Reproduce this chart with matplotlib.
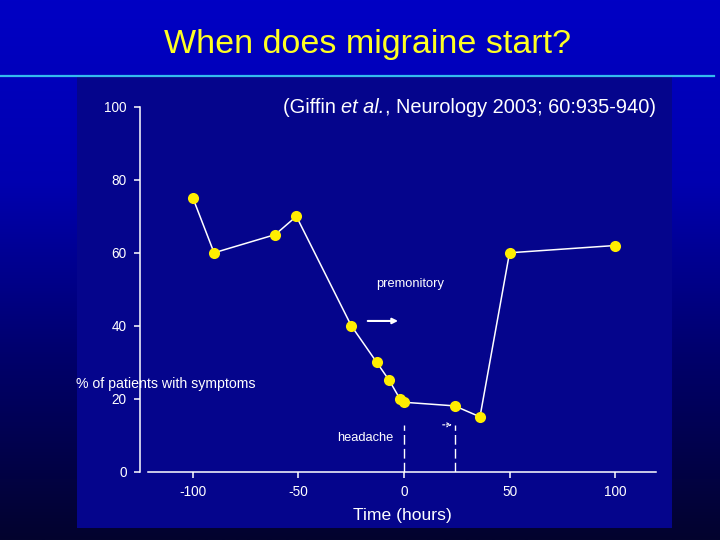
import numpy as np
import matplotlib
matplotlib.use('Agg')
import matplotlib.pyplot as plt
from matplotlib.patches import Rectangle
from matplotlib.lines import Line2D
from matplotlib.colors import LinearSegmentedColormap

plt.rcParams['font.family'] = ['Liberation Sans', 'DejaVu Sans']
plt.rcParams['axes.unicode_minus'] = False

# Daten (Zeit in Stunden, Anteil in %)
hours = [-100, -90, -61, -51, -25, -13, -7, -2, 0, 24, 36, 50, 100]
percent = [75, 60, 65, 70, 40, 30, 25, 20, 19, 18, 15, 60, 62]
x_ticks = [-100, -50, 0, 50, 100]
y_ticks = [0, 20, 40, 60, 80, 100]
headache_start = 0
headache_end = 24

W, H = 720, 540
fig = plt.figure(figsize=(7.2, 5.4), dpi=100)

# Hintergrund mit Farbverlauf
bg = fig.add_axes([0, 0, 1, 1], zorder=-10)
grad = np.linspace(0, 1, 256).reshape(-1, 1)
cmap = LinearSegmentedColormap.from_list('bg', ['#0000C4', '#0000B0', '#00006A', '#03032E'])
bg.imshow(grad, aspect='auto', cmap=cmap, extent=[0, 1, 0, 1])
bg.axis('off')

# Panel
fig.patches.append(Rectangle((77 / W, 1 - 528 / H), (672 - 77) / W, (528 - 77) / H,
                             transform=fig.transFigure, facecolor='#05058C',
                             edgecolor='none', zorder=-5))
fig.lines.append(Line2D([0, 714 / W], [1 - 76 / H, 1 - 76 / H], transform=fig.transFigure,
                        color='#33BBEE', lw=1.6, zorder=-4))

fig.text(367 / W, 1 - 45 / H, 'When does migraine start?', color='#FFFF22',
         fontsize=24.5, ha='center', va='center')

ax = fig.add_axes([148 / W, 1 - 471.5 / H, 508 / W, (471.5 - 107) / H])
ax.set_facecolor('none')
ax.set_xlim(-121.3, 119.4)
ax.set_ylim(0, 100)

ax.plot(hours, percent, color='white', lw=1.1, zorder=3, clip_on=False)
ax.plot(hours, percent, 'o', color='#FFEE00', markersize=8, markeredgewidth=0,
        zorder=4, clip_on=False)

# Kopfschmerzphase
for xv in (headache_start, headache_end):
    ax.plot([xv, xv], [0, 12.8], color='white', lw=1.0, ls=(0, (7, 3)), zorder=2)
ax.annotate('', xy=(24, 12.8), xytext=(17, 12.8),
            arrowprops=dict(arrowstyle='->', color='white', lw=0.8, ls=(0, (2, 1.5)),
                            mutation_scale=7))
ax.annotate('', xy=(-1.5, 41.3), xytext=(-18.5, 41.3),
            arrowprops=dict(arrowstyle='-|>', color='white', lw=1.5,
                            mutation_scale=8))
ax.text(3, 51.5, 'premonitory', color='white', fontsize=9.3, ha='center', va='center')
ax.text(-18.5, 9.3, 'headache', color='white', fontsize=9.3, ha='center', va='center')

for s in ['top', 'right']:
    ax.spines[s].set_visible(False)
ax.spines['left'].set_position(('outward', 5.8))
ax.spines['left'].set_bounds(0, 100)
for s in ['left', 'bottom']:
    ax.spines[s].set_color('white')
    ax.spines[s].set_linewidth(1.1)

ax.set_xticks(x_ticks)
ax.set_yticks(y_ticks)
ax.tick_params(colors='white', labelsize=9.8, length=4, width=1.1)
ax.tick_params(axis='y', pad=5.5)
ax.tick_params(axis='x', pad=6)
ax.set_xlabel('Time (hours)', color='white', fontsize=12.6, labelpad=6)

fig.text(76 / W, 1 - 384 / H, '% of patients with symptoms', color='white',
         fontsize=10.2, ha='left', va='center')

# Quellenangabe in drei Teilen (et al. kursiv)
fig.canvas.draw()
renderer = fig.canvas.get_renderer()
parts = [('(Giffin ', 'normal'), ('et al.', 'italic'),
         (', Neurology 2003; 60:935-940)', 'normal')]
x_px = 283
y_base = 1 - 113 / H
for txt, st in parts:
    t = fig.text(x_px / W, y_base, txt, color='white', fontsize=14.4,
                 style=st, ha='left', va='baseline')
    x_px = t.get_window_extent(renderer).x1

fig.savefig('out.png', dpi=100)
